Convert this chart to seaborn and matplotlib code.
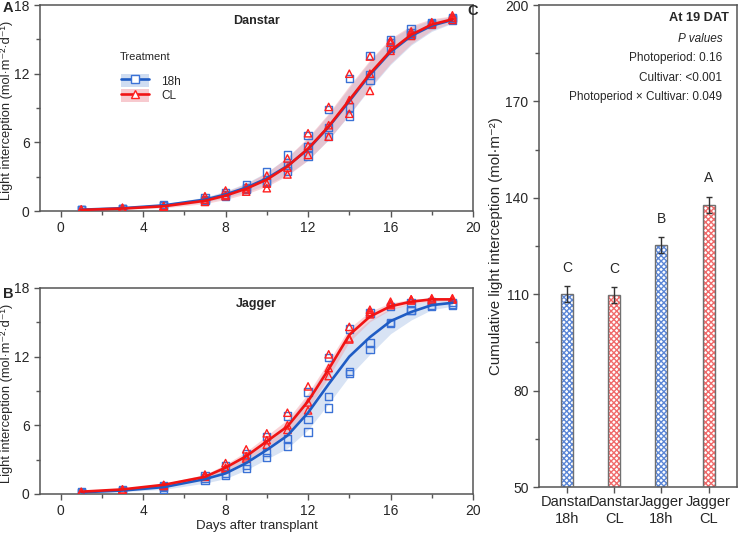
import matplotlib
matplotlib.use("Agg")
import matplotlib.pyplot as plt
import seaborn as sns
import pandas as pd
import numpy as np
from matplotlib.lines import Line2D
from matplotlib.patches import Patch
from matplotlib.ticker import MultipleLocator, FixedLocator

# ---- data ----
days = [1, 3, 5, 7, 8, 9, 10, 11, 12, 13, 14, 15, 16, 17, 18, 19]

danstar_18h_fit = [0.12, 0.25, 0.5, 1.0, 1.45, 2.05, 2.85, 3.95, 5.4, 7.35, 9.6, 11.9, 13.9, 15.3, 16.2, 16.7]
danstar_cl_fit = [0.1, 0.22, 0.42, 0.9, 1.35, 1.95, 2.75, 3.9, 5.45, 7.4, 9.7, 12.0, 14.0, 15.4, 16.3, 16.75]
danstar_18h_ci = [0.05, 0.08, 0.12, 0.22, 0.3, 0.4, 0.55, 0.75, 0.95, 1.1, 1.2, 1.2, 1.1, 0.8, 0.5, 0.3]
danstar_cl_ci = [0.05, 0.08, 0.14, 0.25, 0.33, 0.45, 0.6, 0.8, 1.0, 1.15, 1.25, 1.2, 1.1, 0.8, 0.5, 0.3]

jagger_18h_fit = [0.15, 0.3, 0.6, 1.3, 1.8, 2.7, 3.85, 5.1, 7.1, 9.6, 12.0, 13.7, 15.1, 15.9, 16.5, 16.7]
jagger_cl_fit = [0.2, 0.4, 0.8, 1.5, 2.3, 3.3, 4.6, 5.9, 8.1, 10.9, 13.9, 15.5, 16.4, 16.8, 17.0, 17.0]
jagger_18h_ci = [0.05, 0.1, 0.2, 0.35, 0.45, 0.6, 0.8, 1.1, 1.5, 1.7, 1.7, 1.5, 1.1, 0.7, 0.4, 0.3]
jagger_cl_ci = [0.05, 0.08, 0.12, 0.2, 0.3, 0.4, 0.5, 0.6, 0.7, 0.7, 0.6, 0.45, 0.3, 0.2, 0.15, 0.1]

danstar_18h_pts = [[0.1, 0.12, 0.08], [0.2, 0.25, 0.22], [0.55, 0.5, 0.45], [1.2, 1.0, 0.9],
                   [1.6, 1.3, 1.4], [2.3, 1.9, 2.0], [3.4, 2.6, 2.5], [4.9, 4.0, 3.5],
                   [6.6, 5.6, 4.8], [8.9, 7.3, 6.5], [11.6, 9.1, 8.3], [13.6, 11.4, 11.9],
                   [15.0, 14.7, 14.2], [15.9, 15.6, 15.4], [16.4, 16.3, 16.5], [16.8, 16.7, 16.9]]
danstar_cl_pts = [[0.1, 0.15, 0.1], [0.25, 0.2, 0.3], [0.4, 0.45, 0.4], [1.3, 0.8, 1.0],
                  [1.8, 1.3, 1.4], [2.1, 1.7, 1.9], [3.1, 2.4, 2.0], [4.6, 3.8, 3.2],
                  [6.8, 5.7, 4.9], [9.1, 7.5, 6.5], [12.0, 9.7, 8.5], [13.5, 12.0, 10.5],
                  [14.9, 14.7, 14.0], [15.7, 15.5, 15.3], [16.5, 16.3, 16.4], [17.1, 16.9, 16.7]]
jagger_18h_pts = [[0.1, 0.15, 0.2], [0.3, 0.35, 0.3], [0.45, 0.6, 0.7], [1.15, 1.4, 1.6],
                  [1.6, 1.8, 2.45], [2.2, 2.5, 3.5], [3.2, 3.6, 5.0], [4.2, 4.8, 6.8],
                  [5.4, 6.5, 8.9], [7.5, 8.5, 11.9], [10.5, 10.7, 14.4], [12.6, 13.2, 15.8],
                  [14.9, 16.4, 15.0], [16.0, 16.7, 16.0], [16.4, 16.8, 16.5], [16.6, 16.5, 16.7]]
jagger_cl_pts = [[0.15, 0.2, 0.15], [0.35, 0.4, 0.38], [0.8, 0.7, 0.75], [1.7, 1.6, 1.5],
                 [2.7, 2.3, 2.2], [3.9, 3.3, 3.1], [5.3, 4.7, 4.3], [7.1, 6.0, 5.6],
                 [9.4, 8.0, 7.3], [12.2, 10.3, 11.0], [14.6, 13.6, 13.5], [16.1, 15.9, 15.7],
                 [16.8, 16.6, 16.5], [17.0, 16.9, 17.0], [17.0, 17.1, 16.9], [17.0, 17.1, 17.0]]

bar_labels = ["Danstar\n18h", "Danstar\nCL", "Jagger\n18h", "Jagger\nCL"]
bar_means = [110.1, 109.7, 125.3, 137.8]
bar_se = [2.5, 2.5, 2.4, 2.6]
bar_letters = ["C", "C", "B", "A"]
bar_yticks = [50, 80, 110, 140, 170, 200]
p_texts = ["Photoperiod: 0.16", "Cultivar: <0.001", "Photoperiod \u00d7 Cultivar: 0.049"]

BLUE = "#1f5cc4"
BLUE_PT = "#3b72d6"
RED = "#f01414"
RED_PT = "#ff2020"
BLUE_BAND = "#a9c2e8"
RED_BAND = "#f2a0a8"
SPINE = "#555555"

sns.set_style("ticks")
plt.rcParams["font.family"] = ["Liberation Sans", "DejaVu Sans"]
plt.rcParams["font.size"] = 9.5


def long_points(pts):
    rows = []
    for d, reps in zip(days, pts):
        for v in reps:
            rows.append({"day": d, "value": v})
    return pd.DataFrame(rows)


def style_axis(ax):
    for s in ax.spines.values():
        s.set_color(SPINE)
        s.set_linewidth(1.1)
    ax.tick_params(which="both", direction="out", color=SPINE, width=1.0, labelsize=10)
    ax.tick_params(which="major", length=4)
    ax.tick_params(which="minor", length=3)


def growth_panel(ax, fits, cis, pts, title):
    colors = [(BLUE, BLUE_PT, BLUE_BAND, "s"), (RED, RED_PT, RED_BAND, "^")]
    for fit, ci, (lc, pc, bc, mk) in zip(fits, cis, colors):
        fit = np.array(fit)
        ci = np.array(ci)
        ax.fill_between(days, fit - ci, fit + ci, color=bc, alpha=0.45, lw=0, zorder=1)
    for p, (lc, pc, bc, mk) in zip(pts, colors):
        df = long_points(p)
        sns.scatterplot(data=df, x="day", y="value", ax=ax, marker=mk, s=28,
                        facecolors="none", edgecolor=pc, linewidth=1.0, zorder=3)
    for fit, (lc, pc, bc, mk) in zip(fits, colors):
        sns.lineplot(x=days, y=fit, ax=ax, color=lc, lw=1.9, zorder=4)
    ax.set_xlim(-1, 20)
    ax.set_ylim(0, 18)
    ax.xaxis.set_major_locator(MultipleLocator(4))
    ax.xaxis.set_minor_locator(MultipleLocator(2))
    ax.yaxis.set_major_locator(MultipleLocator(6))
    ax.yaxis.set_minor_locator(MultipleLocator(3))
    ax.set_ylabel("Light interception (mol\u00b7m\u207b\u00b2\u00b7d\u207b\u00b9)", fontsize=9.3)
    ax.yaxis.set_label_coords(-0.062, 0.49)
    ax.set_xlabel("")
    ax.text(0.5, 0.95, title, transform=ax.transAxes, ha="center", va="top",
            fontsize=9, fontweight="bold")
    style_axis(ax)


fig = plt.figure(figsize=(7.39, 5.33), dpi=100)
axA = fig.add_axes([0.0541, 0.604, 0.586, 0.3866])
axB = fig.add_axes([0.0541, 0.0732, 0.586, 0.3866])
axC = fig.add_axes([0.7294, 0.0863, 0.2679, 0.9043])

growth_panel(axA, [danstar_18h_fit, danstar_cl_fit], [danstar_18h_ci, danstar_cl_ci],
             [danstar_18h_pts, danstar_cl_pts], "Danstar")
growth_panel(axB, [jagger_18h_fit, jagger_cl_fit], [jagger_18h_ci, jagger_cl_ci],
             [jagger_18h_pts, jagger_cl_pts], "Jagger")
axB.set_xlabel("Days after transplant", fontsize=9.5, labelpad=1)

# legend (title drawn as its own text to get the reference spacing)
axA.text(0.185, 0.75, "Treatment", transform=axA.transAxes, fontsize=8, va="center")
h18 = (Patch(facecolor=BLUE_BAND, alpha=0.55, lw=0),
       Line2D([], [], color=BLUE, lw=1.9, marker="s", mfc="white", mec=BLUE_PT, ms=5.5))
hcl = (Patch(facecolor=RED_BAND, alpha=0.55, lw=0),
       Line2D([], [], color=RED, lw=1.9, marker="^", mfc="white", mec=RED_PT, ms=6))
leg = axA.legend([h18, hcl], ["18h", "CL"], frameon=False,
                 loc="upper left", bbox_to_anchor=(0.165, 0.71), fontsize=8.5,
                 handlelength=2.4, handleheight=1.3, handletextpad=1.0,
                 labelspacing=0.12, borderpad=0.3)

# bar panel
bars = pd.DataFrame({"group": bar_labels, "mean": bar_means})
sns.barplot(data=bars, x="group", y="mean", ax=axC, width=0.25, errorbar=None,
            color="white", edgecolor="none")
bar_cols = ["#5b86d6", "#f06a6a", "#5b86d6", "#f06a6a"]
for patch, hc in zip(list(axC.patches), bar_cols):
    x0, w = patch.get_x(), patch.get_width()
    h = patch.get_height()
    axC.bar(x0 + w / 2, h, width=w, bottom=0, facecolor="white", edgecolor=hc,
            hatch="xxxxxx", lw=0, zorder=2)
    axC.bar(x0 + w / 2, h, width=w, bottom=0, facecolor="none", edgecolor="#707070",
            lw=1.0, zorder=3)
axC.errorbar(range(len(bar_means)), bar_means, yerr=bar_se, fmt="none",
             ecolor="#333333", elinewidth=1.0, capsize=2.5, capthick=1.0, zorder=4)
for i, (m, e, t) in enumerate(zip(bar_means, bar_se, bar_letters)):
    axC.text(i, m + e + 3.5, t, ha="center", va="bottom", fontsize=10)
axC.set_ylim(50, 200)
axC.set_xlim(-0.59, 3.6)
axC.yaxis.set_major_locator(FixedLocator(bar_yticks))
axC.yaxis.set_minor_locator(FixedLocator([t + 15 for t in bar_yticks[:-1]]))
axC.set_xlabel("")
axC.set_ylabel("Cumulative light interception (mol\u00b7m\u207b\u00b2)", fontsize=10.8)
axC.yaxis.set_label_coords(-0.18, 0.5)
style_axis(axC)
axC.tick_params(axis="x", labelsize=10.5, pad=2)

axC.text(0.96, 0.985, "At 19 DAT", transform=axC.transAxes, ha="right", va="top",
         fontsize=9.2, fontweight="bold")
axC.text(0.925, 0.942, "P values", transform=axC.transAxes, ha="right", va="top",
         fontsize=8.5, style="italic")
for k, t in enumerate(p_texts):
    axC.text(0.925, 0.902 - k * 0.0405, t, transform=axC.transAxes, ha="right", va="top",
             fontsize=8.5)

fig.text(0.004, 0.998, "A", fontsize=10.5, fontweight="bold", va="top")
fig.text(0.004, 0.462, "B", fontsize=10.5, fontweight="bold", va="top")
fig.text(0.632, 0.992, "C", fontsize=10.5, fontweight="bold", va="top")

fig.savefig("out.png", dpi=100)
